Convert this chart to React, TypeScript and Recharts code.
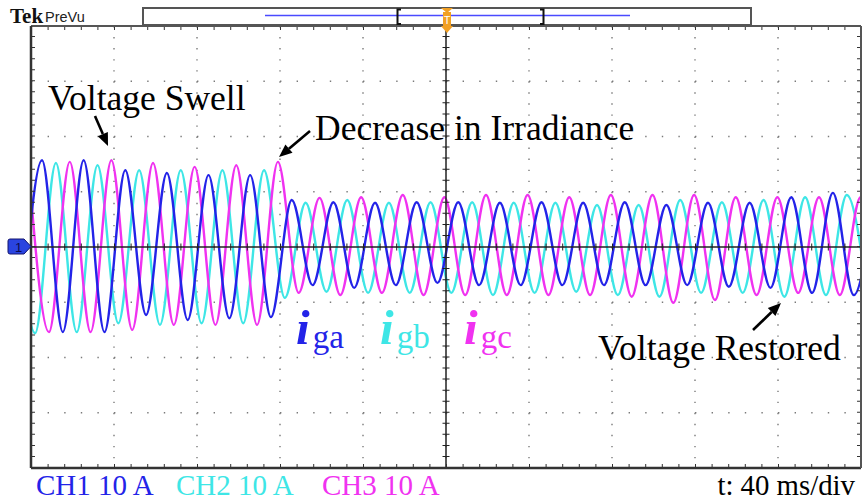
import React from "react";
import { LineChart, Line, XAxis, YAxis, CartesianGrid, ReferenceLine } from "recharts";

// scope settings: 40 ms/div horizontally, 10 A/div vertically
const X_TICKS = [0, 40, 80, 120, 160, 200, 240, 280, 320, 360, 400];
const Y_TICKS = [-40, -30, -20, -10, 0, 10, 20, 30, 40];

// mains period (~50 Hz), and the time of the first listed extremum
const PERIOD_MS = 20.06;
const IGA_START = -4.72;
const IGB_START = -8.06;
const IGC_START = -1.38;

// successive peaks / troughs of each grid current (A), one every half period
const IGA_PEAKS = [
  -15.6, 15.7, -15.4, 15.7, -15.4, 13.9, -12.3, 13.4, -13.2, 13.0, -12.9, 13.0, -12.7,
  8.5, -6.9, 8.1, -7.4, 8.0, -6.9, 8.1, -6.5, 8.1, -6.9, 8.0, -6.9, 8.1, -6.9, 8.0, -6.9,
  8.1, -6.9, 7.6, -6.9, 8.0, -7.2, 8.0, -7.4, 9.0, -8.3, 9.8, -8.7, 9.8,
];
const IGB_PEAKS = [
  15.6, -15.6, 15.2, -15.4, 14.8, -13.8, 13.9, -14.1, 13.9, -13.8, 13.9, -13.8, 13.9,
  -9.2, 8.0, -8.1, 8.5, -8.3, 8.0, -8.3, 8.1, -8.3, 8.1, -8.7, 8.0, -8.3, 8.0, -8.1, 7.6,
  -8.7, 7.6, -9.0, 8.5, -8.3, 8.1, -8.3, 8.5, -9.0, 9.0, -8.7, 9.4, -8.9,
];
const IGC_PEAKS = [
  15.6, -15.4, 15.4, -15.4, 15.7, -15.0, 15.2, -14.1, 14.5, -14.1, 14.8, -14.1, 15.4,
  -8.3, 8.9, -8.7, 9.0, -8.3, 9.4, -8.7, 9.0, -8.7, 9.4, -8.7, 9.4, -8.7, 9.0, -8.7, 9.4,
  -9.0, 9.4, -10.1, 9.4, -9.6, 9.0, -8.7, 9.0, -8.3, 9.0, -8.7, 9.0, -8.7,
];

const BLUE = "#2323e8";
const CYAN = "#3ee6e6";
const MAGENTA = "#f032f0";
const SERIF = "'Liberation Serif', 'Times New Roman', serif";

type Row = { t: number; iga?: number; igb?: number; igc?: number };

function buildRows(): Row[] {
  const rows = new Map<number, Row>();
  const add = (start: number, vals: number[], key: "iga" | "igb" | "igc") => {
    vals.forEach((v, i) => {
      const t = Math.round((start + (i * PERIOD_MS) / 2) * 100) / 100;
      const row = rows.get(t) ?? { t };
      row[key] = v;
      rows.set(t, row);
    });
  };
  add(IGA_START, IGA_PEAKS, "iga");
  add(IGB_START, IGB_PEAKS, "igb");
  add(IGC_START, IGC_PEAKS, "igc");
  return [...rows.values()].sort((a, b) => a.t - b.t);
}

const data = buildRows();

function Arrow({ x1, y1, x2, y2 }: { x1: number; y1: number; x2: number; y2: number }) {
  const a = Math.atan2(y2 - y1, x2 - x1);
  const len = 13;
  const w = 5.5;
  const bx = x2 - len * Math.cos(a);
  const by = y2 - len * Math.sin(a);
  const p1 = `${bx + w * Math.sin(a)},${by - w * Math.cos(a)}`;
  const p2 = `${bx - w * Math.sin(a)},${by + w * Math.cos(a)}`;
  return (
    <g>
      <line x1={x1} y1={y1} x2={bx} y2={by} stroke="#000" strokeWidth={2.6} />
      <polygon points={`${x2},${y2} ${p1} ${p2}`} fill="#000" />
    </g>
  );
}

function Label({ x, y, color, sub }: { x: number; y: number; color: string; sub: string }) {
  return (
    <text x={x} y={y} fill={color} fontFamily={SERIF}>
      <tspan fontSize={49} fontWeight="bold" fontStyle="italic">i</tspan>
      <tspan fontSize={33} dx={3} dy={4}>{sub}</tspan>
    </text>
  );
}

export default function App() {
  return (
    <div style={{ position: "absolute", left: 0, top: 0, width: 865, height: 504, background: "#fff" }}>
      <LineChart width={865} height={504} data={data} margin={{ top: 26, right: 4, bottom: 36, left: 31 }}>
        <XAxis dataKey="t" type="number" domain={[0, 400]} ticks={X_TICKS} allowDataOverflow hide />
        <YAxis type="number" domain={[-40, 40]} ticks={Y_TICKS} allowDataOverflow hide />
        <CartesianGrid horizontal={false} stroke="#7a7a7a" strokeWidth={1.4} strokeDasharray="1.4 9.65" />
        <CartesianGrid vertical={false} stroke="#7a7a7a" strokeWidth={1.4} strokeDasharray="1.4 15.2" />

        <Line dataKey="igb" type="monotone" stroke={CYAN} strokeWidth={2.4} dot={false} connectNulls isAnimationActive={false} />
        <Line dataKey="igc" type="monotone" stroke={MAGENTA} strokeWidth={2.4} dot={false} connectNulls isAnimationActive={false} />
        <Line dataKey="iga" type="monotone" stroke={BLUE} strokeWidth={2.4} dot={false} connectNulls isAnimationActive={false} />

        {/* centre cross with minor ticks */}
        <ReferenceLine y={0} stroke="#222" strokeWidth={1.5} />
        <ReferenceLine y={0} stroke="#222" strokeWidth={7} strokeDasharray="1 15.6" />
        <ReferenceLine x={200} stroke="#222" strokeWidth={1.5} />
        <ReferenceLine x={200} stroke="#222" strokeWidth={7} strokeDasharray="1 10.05" />

        {/* ticks along the frame */}
        <ReferenceLine y={39.64} stroke="#333" strokeWidth={4} strokeDasharray="1 15.6" />
        <ReferenceLine y={-39.64} stroke="#333" strokeWidth={4} strokeDasharray="1 15.6" />
        <ReferenceLine x={0.96} stroke="#333" strokeWidth={4} strokeDasharray="1 10.05" />
        <ReferenceLine x={399.04} stroke="#333" strokeWidth={4} strokeDasharray="1 10.05" />

        {/* frame */}
        <ReferenceLine y={40} stroke="#555" strokeWidth={2} />
        <ReferenceLine y={-40} stroke="#333" strokeWidth={2.5} />
        <ReferenceLine x={0} stroke="#333" strokeWidth={2.5} />
        <ReferenceLine x={400} stroke="#555" strokeWidth={2} />
      </LineChart>

      <svg width={865} height={504} style={{ position: "absolute", left: 0, top: 0, pointerEvents: "none" }}>
        {/* header */}
        <text x={10} y={23} fontFamily={SERIF} fontWeight="bold" fontSize={21} fill="#111">Tek</text>
        <text x={45} y={22} fontFamily="'Liberation Sans', Arial, sans-serif" fontSize={14.5} fill="#222">PreVu</text>
        <rect x={143} y={8} width={608} height={17} fill="#fff" stroke="#555" strokeWidth={2} />
        <line x1={265} y1={15.5} x2={630} y2={15.5} stroke="#4a4aff" strokeWidth={1.6} />
        <path d="M401,9.5 H397.5 V24 H401" fill="none" stroke="#111" strokeWidth={2} />
        <path d="M540,9.5 H543.5 V24 H540" fill="none" stroke="#111" strokeWidth={2} />
        <polygon points="441,8 453,8 447,13" fill="#f2a024" />
        <rect x={443} y={12} width={8} height={15} fill="#f2a024" />
        <text x={447} y={24} textAnchor="middle" fontSize={11} fill="#fff" fontFamily="'Liberation Sans', sans-serif">T</text>
        <polygon points="441,26 453,26 447,33" fill="#f2a024" />

        {/* channel 1 ground marker */}
        <path d="M10,239 H24 L31,246.5 L24,254 H10 Q8,254 8,252 V241 Q8,239 10,239 Z" fill="#2a44e0" stroke="#14146e" strokeWidth={1} />
        <text x={15} y={251.5} fontSize={13} fill="#0b0b50" fontFamily="'Liberation Sans', sans-serif">1</text>

        {/* annotations */}
        <text x={48} y={110} fontFamily={SERIF} fontSize={35.5} fill="#000">Voltage Swell</text>
        <Arrow x1={95} y1={116} x2={108} y2={146} />
        <text x={315} y={140} fontFamily={SERIF} fontSize={35.5} fill="#000">Decrease in Irradiance</text>
        <Arrow x1={310} y1={131} x2={279} y2={157} />
        <text x={598} y={360} fontFamily={SERIF} fontSize={35.5} fill="#000">Voltage Restored</text>
        <Arrow x1={753} y1={330} x2={781} y2={303} />

        <Label x={296} y={344} color={BLUE} sub="ga" />
        <Label x={380} y={344} color={CYAN} sub="gb" />
        <Label x={464} y={344} color={MAGENTA} sub="gc" />

        {/* channel / timebase readout */}
        <text x={36} y={495} fontFamily={SERIF} fontSize={29} fill={BLUE}>CH1 10 A</text>
        <text x={176} y={495} fontFamily={SERIF} fontSize={29} fill={CYAN}>CH2 10 A</text>
        <text x={322} y={495} fontFamily={SERIF} fontSize={29} fill={MAGENTA}>CH3 10 A</text>
        <text x={855} y={495} textAnchor="end" fontFamily={SERIF} fontSize={28.8} fill="#000">t: 40 ms/div</text>
      </svg>
    </div>
  );
}
